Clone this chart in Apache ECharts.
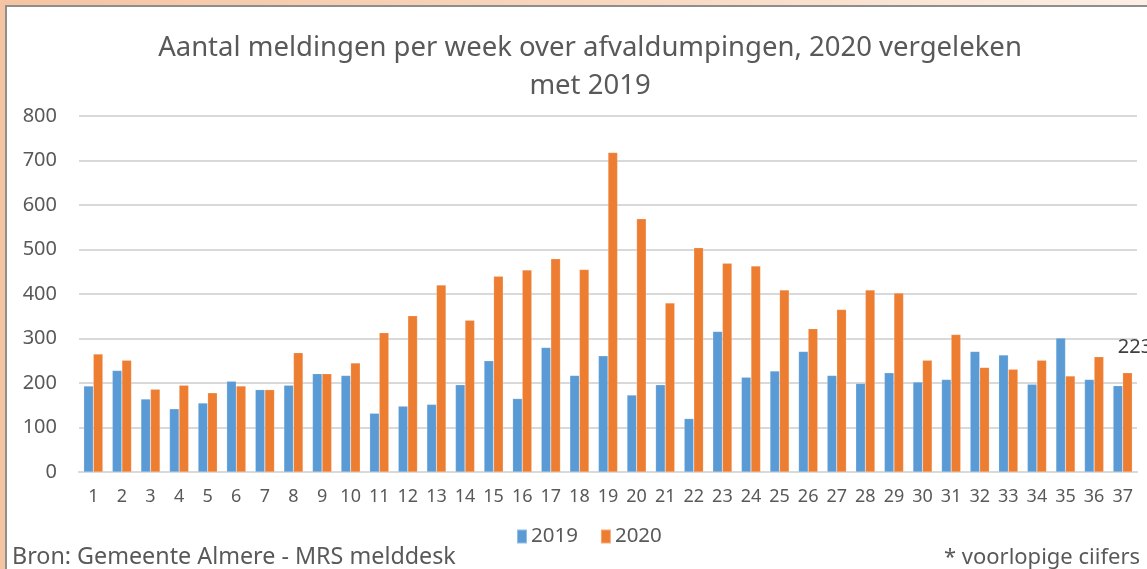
<!DOCTYPE html>
<html>
<head>
<meta charset="utf-8">
<script src="https://cdn.jsdelivr.net/npm/echarts@6/dist/echarts.min.js"></script>
<style>
  html, body { margin: 0; padding: 0; }
  body {
    width: 1147px; height: 569px; overflow: hidden; position: relative;
    background: linear-gradient(90deg, #f5c4a2 0%, #f8d6bd 50%, #fcefe5 100%);
  }
  .panel {
    position: absolute; left: 5px; top: 5px; width: 1160px; height: 600px;
    background: #fff; border: 2px solid #8e8e8e;
  }
  #chart { position: absolute; left: 0; top: 0; width: 1147px; height: 569px; }
</style>
</head>
<body>
<div class="panel"></div>
<div id="chart"></div>
<script>
const weeks = Array.from({ length: 37 }, (_, i) => String(i + 1))

const values2019 = [193, 228, 164, 142, 155, 204, 185, 195, 221, 217,
  132, 148, 152, 196, 250, 165, 280, 217, 261, 173,
  196, 120, 316, 213, 227, 271, 217, 199, 223, 202,
  208, 271, 263, 197, 301, 208, 194]

const values2020 = [265, 251, 186, 195, 178, 193, 185, 268, 221, 245,
  313, 351, 420, 341, 440, 454, 479, 455, 718, 569,
  380, 504, 469, 463, 409, 322, 365, 409, 402, 251,
  309, 235, 231, 251, 216, 259, 223]

const yTicks = [0, 100, 200, 300, 400, 500, 600, 700, 800]

const textColor = '#595959'
const font = 'Noto Sans'

const chart = echarts.init(document.getElementById('chart'), null, { renderer: 'canvas' })

chart.setOption({
  animation: false,
  textStyle: { fontFamily: font, color: textColor },
  title: {
    text: 'Aantal meldingen per week over afvaldumpingen, 2020 vergeleken\nmet 2019',
    left: 585,
    textAlign: 'center',
    top: 24,
    textStyle: { fontFamily: font, fontSize: 27.5, fontWeight: 'normal', color: textColor, lineHeight: 38 },
  },
  legend: {
    data: ['2019', '2020'],
    left: 516,
    top: 526,
    padding: 0,
    itemWidth: 10,
    itemHeight: 14,
    itemGap: 22,
    icon: 'rect',
    textStyle: { fontFamily: font, fontSize: 20.5, color: textColor, padding: [0, 0, 0, -1] },
  },
  grid: { left: 79, right: 10, top: 116, bottom: 97, containLabel: false },
  xAxis: {
    type: 'category',
    data: weeks,
    axisTick: { show: false },
    axisLine: { lineStyle: { color: '#d9d9d9', width: 2 } },
    axisLabel: { color: textColor, fontSize: 18, fontFamily: font, margin: 16, interval: 0 },
  },
  yAxis: {
    type: 'value',
    min: yTicks[0],
    max: yTicks[yTicks.length - 1],
    interval: 100,
    axisLabel: { color: textColor, fontSize: 20, fontFamily: font, margin: 22 },
    splitLine: { lineStyle: { color: '#d9d9d9', width: 2 } },
  },
  graphic: [
    {
      type: 'text', left: 12, top: 546,
      style: { text: 'Bron: Gemeente Almere - MRS melddesk', fontFamily: font, fontSize: 23.3, fill: textColor },
    },
    {
      type: 'text', right: 7, top: 547,
      style: { text: '* voorlopige ciifers', fontFamily: font, fontSize: 22, fill: textColor },
    },
  ],
  series: [
    {
      name: '2019',
      type: 'bar',
      data: values2019,
      barGap: '0%',
      barCategoryGap: '33%',
      itemStyle: { color: '#5b9bd5', borderColor: 'rgba(255,255,255,0.35)', borderWidth: 0.5 },
    },
    {
      name: '2020',
      type: 'bar',
      data: values2020.map((v, i) => i === values2020.length - 1
        ? { value: v, label: { show: true } }
        : v),
      itemStyle: { color: '#ed7d31', borderColor: 'rgba(255,255,255,0.35)', borderWidth: 0.5 },
      label: {
        show: false,
        position: 'top',
        formatter: '{c}*',
        fontFamily: font,
        fontSize: 20,
        color: '#404040',
        offset: [13, -10],
      },
    },
  ],
})
</script>
</body>
</html>
